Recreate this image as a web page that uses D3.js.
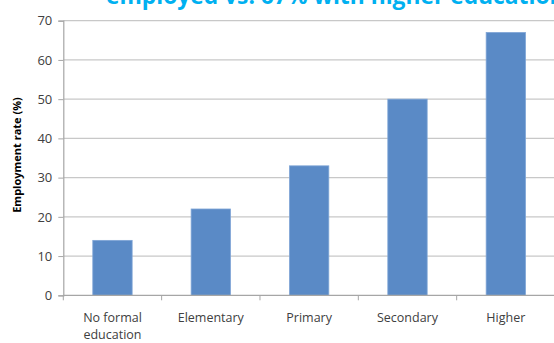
<!DOCTYPE html>
<html><head><meta charset="utf-8">
<script src="https://cdn.jsdelivr.net/npm/d3@7"></script>
<style>html,body{margin:0;padding:0;background:#fff;overflow:hidden}</style>
</head><body>
<svg id="c" width="554" height="343"></svg>
<script>
const categories = [["No formal","education"],["Elementary"],["Primary"],["Secondary"],["Higher"]];
const values = [14, 22, 33, 50, 67];
const yTicks = [0,10,20,30,40,50,60,70];
const titleText = "employed vs. 67% with higher education";
const yTitle = "Employment rate (%)";

(function(){
const svg = d3.select("#c");
const L = 63.3, R = 555, T = 20.7, B = 295.3;
const ids = categories.map((c,i)=>i);
const x = d3.scaleBand().domain(ids).range([L, R]).paddingInner(0.6).paddingOuter(0.3);
const xt = d3.scaleBand().domain(ids).range([L, R]);
const y = d3.scaleLinear().domain([0,70]).range([B, T]);

// gridlines
svg.append("g").selectAll("line").data(yTicks.filter(d=>d>0)).join("line")
  .attr("x1", L).attr("x2", R).attr("y1", d=>y(d)).attr("y2", d=>y(d))
  .attr("stroke", "#c8c8c8").attr("stroke-width", 1.3);

// y axis
const ya = svg.append("g").attr("transform", `translate(${L},0)`)
  .call(d3.axisLeft(y).tickValues(yTicks).tickSize(5).tickPadding(6));
ya.select(".domain").attr("stroke", "#a6a6a6").attr("stroke-width",1.2);
ya.selectAll(".tick line").attr("stroke", "#a6a6a6");
ya.selectAll("text").attr("font-family","'Open Sans', sans-serif").attr("font-size", 13).attr("fill","#404040");

// bars
svg.append("g").selectAll("rect").data(values).join("rect")
  .attr("x", (d,i)=>x(i)).attr("width", x.bandwidth())
  .attr("y", d=>y(d)).attr("height", d=>y(0)-y(d))
  .attr("fill", "#5a8ac6").attr("stroke","#7fa5d6").attr("stroke-width",0.8);

// x axis
const xa = svg.append("g").attr("transform", `translate(0,${B})`);
xa.append("line").attr("x1", L).attr("x2", R).attr("y1",0).attr("y2",0).attr("stroke","#a6a6a6").attr("stroke-width",1.2);
xa.selectAll("line.tk").data(ids).join("line").attr("class","tk")
  .attr("x1", d=>xt(d)).attr("x2", d=>xt(d)).attr("y1",0).attr("y2",5).attr("stroke","#a6a6a6");
const lab = xa.selectAll("text").data(categories).join("text")
  .attr("x", (d,i)=>xt(i)+xt.bandwidth()/2).attr("y", 27)
  .attr("text-anchor","middle").attr("font-family","'Open Sans', sans-serif").attr("font-size", 12.5).attr("fill","#404040");
lab.selectAll("tspan").data((d,i)=>d.map(t=>({t,i}))).join("tspan")
  .attr("x", d=>xt(d.i)+xt.bandwidth()/2).attr("dy",(d,j)=>j===0?0:17).text(d=>d.t);

// y title
svg.append("text").attr("transform","translate(21,155) rotate(-90)")
  .attr("text-anchor","middle").attr("font-family","'Open Sans', sans-serif").attr("font-weight","bold")
  .attr("font-size", 11).attr("fill","#000").text(yTitle);

// title (clipped at top, as in the reference)
svg.append("text").attr("x", 106).attr("y", 4)
  .attr("font-family","'Open Sans', sans-serif").attr("font-weight","bold")
  .attr("font-size", 22.8).attr("fill","#00b0f0").text(titleText);
})();
</script>
</body></html>
